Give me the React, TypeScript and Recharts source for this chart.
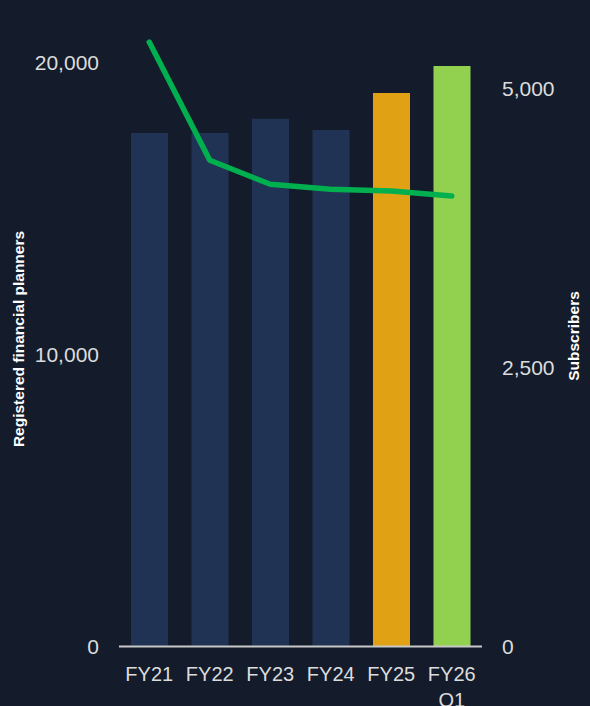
import React from 'react';
import { ComposedChart, Bar, Line, XAxis, YAxis, Cell, Label } from 'recharts';

const categories = ['FY21', 'FY22', 'FY23', 'FY24', 'FY25', 'FY26 Q1'];
const planners = [17600, 17600, 18090, 17700, 18970, 19890];
const subscribers = [5420, 4360, 4145, 4100, 4085, 4040];
const leftTicks = [0, 10000, 20000];
const rightTicks = [0, 2500, 5000];
const barColors = ['#213354', '#213354', '#213354', '#213354', '#e0a114', '#92d14f'];

const data = categories.map((c, i) => ({ name: c, planners: planners[i], subscribers: subscribers[i] }));

const BG = '#141c2b';
const TICK = '#dcdcdc';
const FONT = '"Liberation Sans", Arial, Helvetica, sans-serif';

const fmt = (v: number) => v.toLocaleString('en-US');

const XTick = (props: any) => {
  const { x, y, payload } = props;
  const lines = String(payload.value).split(' ');
  return (
    <text x={x} y={y} textAnchor="middle" fill={TICK} fontSize={20} fontFamily={FONT}>
      {lines.map((l, i) => (
        <tspan key={i} x={x} dy={i === 0 ? 34.5 : 26}>{l}</tspan>
      ))}
    </text>
  );
};

const LeftTitle = () => (
  <text x={19} y={339} transform="rotate(-90, 19, 339)" textAnchor="middle" dy="0.35em"
    fill="#ffffff" fontSize={15.5} fontWeight="bold" fontFamily={FONT}>
    Registered financial planners
  </text>
);

const RightTitle = () => (
  <text x={574} y={336} transform="rotate(-90, 574, 336)" textAnchor="middle" dy="0.35em"
    fill="#ffffff" fontSize={15.5} fontWeight="bold" fontFamily={FONT}>
    Subscribers
  </text>
);

export default function App() {
  return (
    <div style={{ position: 'absolute', left: 0, top: 0, width: 590, height: 706, background: BG, overflow: 'hidden' }}>
      <ComposedChart width={590} height={706} data={data}
        margin={{ top: 16, right: 0, bottom: 0, left: 0 }}
        barCategoryGap="19%">
        <XAxis dataKey="name" height={59.5} tick={<XTick />} tickLine={false} tickSize={0} tickMargin={0}
          axisLine={{ stroke: '#c8c8c8', strokeWidth: 2 }} interval={0} />
        <YAxis yAxisId="left" orientation="left" width={119} domain={[0, 21607]} ticks={leftTicks}
          tickFormatter={fmt} axisLine={false} tickLine={false} tickSize={0} tickMargin={20}
          tick={{ fill: TICK, fontSize: 21, fontFamily: FONT }}>
          <Label content={<LeftTitle />} />
        </YAxis>
        <YAxis yAxisId="right" orientation="right" width={108} domain={[0, 5654]} ticks={rightTicks}
          tickFormatter={fmt} axisLine={false} tickLine={false} tickSize={0} tickMargin={20}
          tick={{ fill: TICK, fontSize: 21, fontFamily: FONT }}>
          <Label content={<RightTitle />} />
        </YAxis>
        <Bar yAxisId="left" dataKey="planners" barSize={37} isAnimationActive={false}>
          {data.map((d, i) => (
            <Cell key={d.name} fill={barColors[i]} />
          ))}
        </Bar>
        <Line yAxisId="right" dataKey="subscribers" type="linear" stroke="#00b04f" strokeWidth={5.5}
          strokeLinecap="round" strokeLinejoin="round" dot={false} activeDot={false} isAnimationActive={false} />
      </ComposedChart>
    </div>
  );
}
